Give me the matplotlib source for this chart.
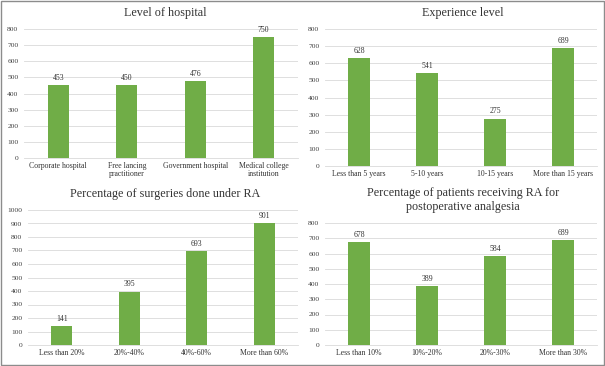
import matplotlib
matplotlib.use("Agg")
import matplotlib.pyplot as plt
from matplotlib.patches import Rectangle

plt.rcParams['font.family'] = ['Liberation Serif', 'DejaVu Serif']

hosp_labels = ['Corporate hospital', 'Free lancing\npractitioner', 'Government hospital', 'Medical college\ninstitution']
hosp_vals = [453, 450, 476, 750]

exp_labels = ['Less than 5 years', '5-10 years', '10-15 years', 'More than 15 years']
exp_vals = [628, 541, 275, 689]

surg_labels = ['Less than 20%', '20%-40%', '40%-60%', 'More than 60%']
surg_vals = [141, 395, 693, 901]

pat_labels = ['Less than 10%', '10%-20%', '20%-30%', 'More than 30%']
pat_vals = [678, 389, 584, 689]

W, H = 605, 366
fig = plt.figure(figsize=(W / 100, H / 100), dpi=100)
green = '#70AD47'


def px_axes(left, right, top, bottom):
    # pixel box (top-left origin) -> figure fraction axes
    return fig.add_axes([left / W, 1 - bottom / H, (right - left) / W, (bottom - top) / H])


def panel(box, labels, vals, ymax, step, title, title_xy):
    ax = px_axes(*box)
    x = range(len(vals))
    ax.bar(x, vals, width=0.31, color=green, zorder=3)
    for xi, v in zip(x, vals):
        ax.text(xi, v + ymax * 0.025, str(v), ha='center', va='bottom', fontsize=5.6, color='#333333')
    ax.set_xlim(-0.5, len(vals) - 0.5)
    ax.set_ylim(0, ymax)
    ax.set_yticks(range(0, ymax + 1, step))
    ax.set_xticks(list(x))
    ax.set_xticklabels(labels, fontsize=5.6, color='#333333', linespacing=1.0)
    ax.tick_params(axis='y', labelsize=5.4, labelcolor='#404040', length=0, pad=4)
    ax.tick_params(axis='x', length=0, pad=3)
    ax.grid(axis='y', color='#d9d9d9', linewidth=0.6, zorder=0)
    for s in ['top', 'right', 'left']:
        ax.spines[s].set_visible(False)
    ax.spines['bottom'].set_color('#d9d9d9')
    ax.spines['bottom'].set_linewidth(0.6)
    fig.text(title_xy[0] / W, 1 - title_xy[1] / H, title, ha='center', va='center',
             fontsize=8.7, color='#333333', linespacing=1.15)
    return ax


panel((24, 298, 29, 158), hosp_labels, hosp_vals, 800, 100, 'Level of hospital', (165, 13))
panel((325, 597, 29, 166), exp_labels, exp_vals, 800, 100, 'Experience level', (463, 13))
panel((28, 298, 210, 345), surg_labels, surg_vals, 1000, 100, 'Percentage of surgeries done under RA', (165, 194))
panel((325, 597, 223, 345), pat_labels, pat_vals, 800, 100,
      'Percentage of patients receiving RA for\npostoperative analgesia', (463, 200))

fig.patches.append(Rectangle((0.001, 0.002), 0.997, 0.996, transform=fig.transFigure,
                             fill=False, edgecolor='#8c8c8c', linewidth=1.0))

fig.savefig('out.png', dpi=100)
